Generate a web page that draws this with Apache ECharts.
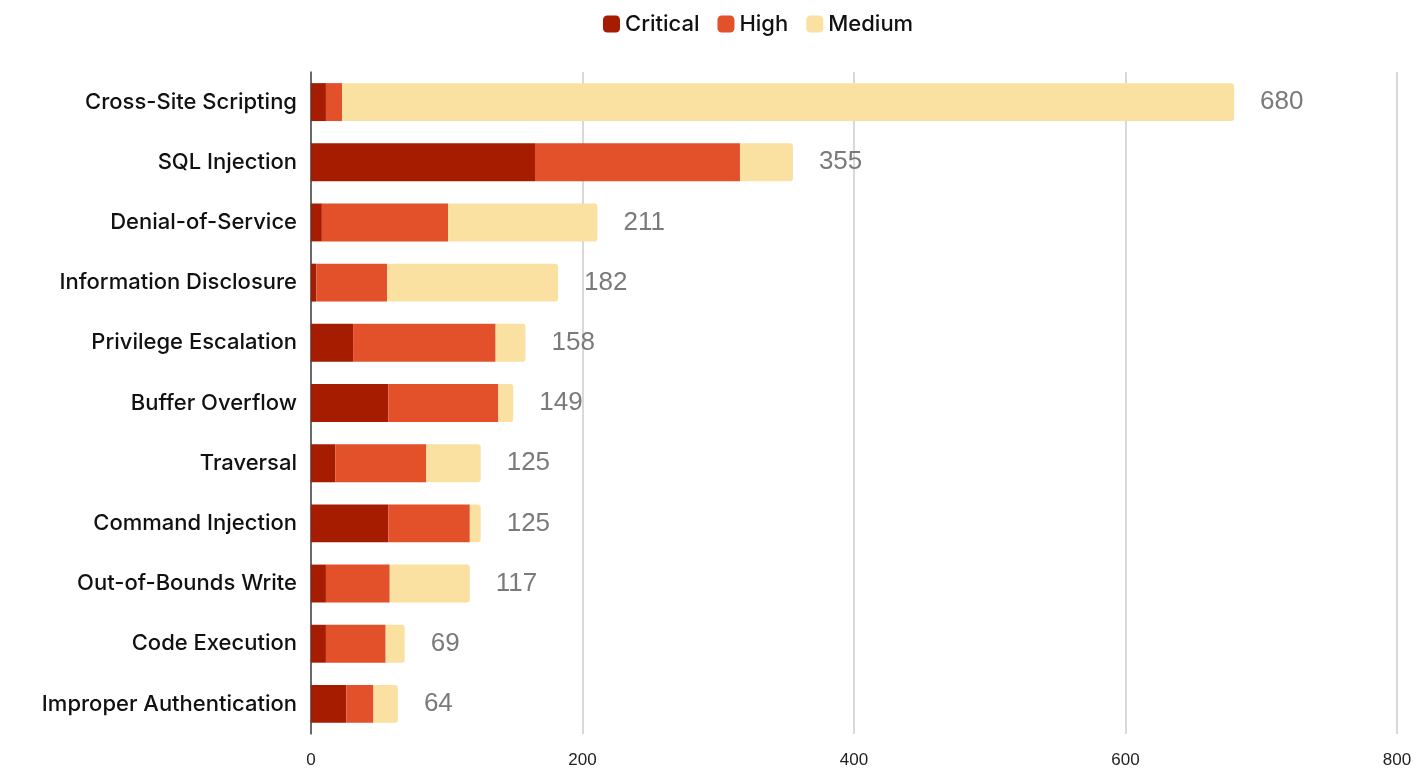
<!DOCTYPE html>
<html>
<head>
<meta charset="utf-8">
<script src="https://cdn.jsdelivr.net/npm/echarts@6/dist/echarts.min.js"></script>
<style>
  html, body { margin: 0; padding: 0; background: #fff; }
  #chart { width: 1419px; height: 772px; }
</style>
</head>
<body>
<div id="chart"></div>
<script>
const categories = [
  'Cross-Site Scripting', 'SQL Injection', 'Denial-of-Service', 'Information Disclosure',
  'Privilege Escalation', 'Buffer Overflow', 'Traversal', 'Command Injection',
  'Out-of-Bounds Write', 'Code Execution', 'Improper Authentication'
];
const critical = [11, 165, 8, 4, 31, 57, 18, 57, 11, 11, 26];
const high = [12, 151, 93, 52, 105, 81, 67, 60, 47, 44, 20];
const medium = [657, 39, 110, 126, 22, 11, 40, 8, 59, 14, 18];
const totals = categories.map((c, i) => critical[i] + high[i] + medium[i]);

const labelFont = 'Inter, "DejaVu Sans", sans-serif';
const numFont = '"Liberation Sans", Arial, sans-serif';

const option = {
  animation: false,
  legend: {
    top: 8,
    left: 598,
    itemWidth: 17,
    itemHeight: 17,
    itemGap: 18,
    icon: 'roundRect',
    textStyle: { fontFamily: labelFont, fontSize: 22, fontWeight: 500, color: '#111' },
    data: ['Critical', 'High', 'Medium']
  },
  grid: { left: 311, right: 22, top: 72, bottom: 38 },
  xAxis: {
    type: 'value',
    min: 0,
    max: 800,
    interval: 200,
    axisLine: { show: false },
    axisTick: { show: false },
    axisLabel: { fontFamily: numFont, fontSize: 17, color: '#222', margin: 18 },
    splitLine: { lineStyle: { color: '#cccccc', width: 1.5 } }
  },
  yAxis: {
    type: 'category',
    data: categories,
    inverse: true,
    axisLine: { show: true, lineStyle: { color: '#444', width: 1.5 } },
    axisTick: { show: false },
    axisLabel: { fontFamily: labelFont, fontSize: 22, fontWeight: 500, color: '#111', margin: 14 }
  },
  series: [
    {
      name: 'Critical', type: 'bar', stack: 'all', barWidth: '63%',
      itemStyle: { color: '#a51c00' }, data: critical
    },
    {
      name: 'High', type: 'bar', stack: 'all',
      itemStyle: { color: '#e2512a' }, data: high
    },
    {
      name: 'Medium', type: 'bar', stack: 'all',
      itemStyle: { color: '#fae1a2', borderRadius: [0, 3, 3, 0] }, data: medium,
      label: {
        show: true,
        position: 'right',
        distance: 26,
        fontFamily: numFont,
        fontSize: 26,
        color: '#7a7a7a',
        formatter: p => totals[p.dataIndex]
      }
    }
  ]
};

const chart = echarts.init(document.getElementById('chart'));
chart.setOption(option);
window.addEventListener('resize', () => chart.resize());
</script>
</body>
</html>
